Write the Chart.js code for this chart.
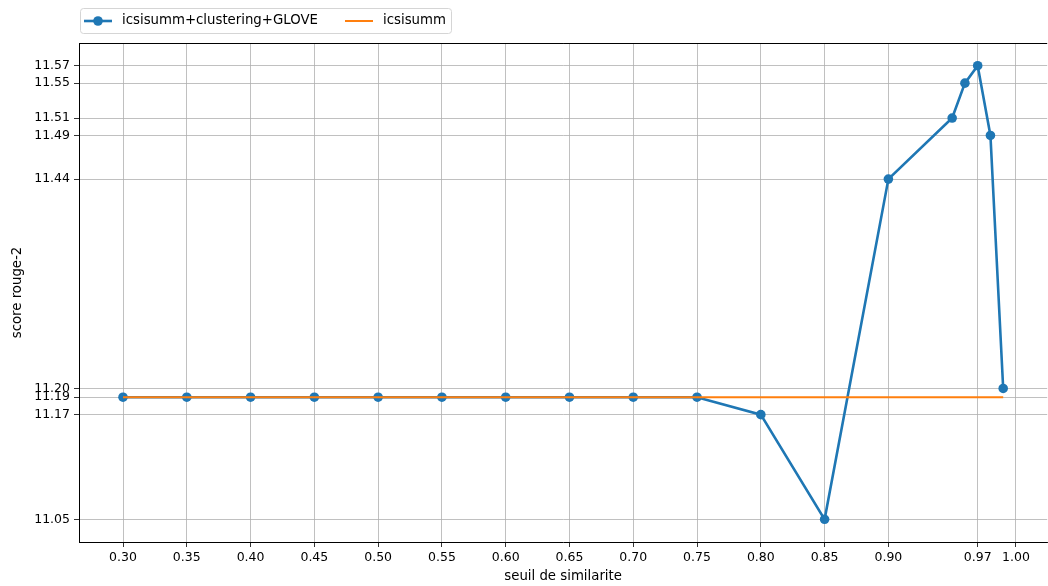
<!DOCTYPE html>
<html>
<head>
<meta charset="utf-8">
<script src="https://cdn.jsdelivr.net/npm/chart.js@4/dist/chart.umd.min.js"></script>
<style>
  html, body { margin: 0; padding: 0; background: #fff; overflow: hidden; }
  #wrap { width: 1052px; height: 586px; }
</style>
</head>
<body>
<div id="wrap"><canvas id="rouge-chart" width="1052" height="586"></canvas></div>
<script>
// ------------------- Data ------------------
const seuils = [0.30, 0.35, 0.40, 0.45, 0.50, 0.55, 0.60, 0.65, 0.70, 0.75, 0.80, 0.85, 0.90, 0.95, 0.96, 0.97, 0.98, 0.99];
const scoresGlove = [11.19, 11.19, 11.19, 11.19, 11.19, 11.19, 11.19, 11.19, 11.19, 11.19, 11.17, 11.05, 11.44, 11.51, 11.55, 11.57, 11.49, 11.20];
const scoreBaseline = 11.19;
const xTicks = [0.30, 0.35, 0.40, 0.45, 0.50, 0.55, 0.60, 0.65, 0.70, 0.75, 0.80, 0.85, 0.90, 0.97, 1.00];
const yTicks = [11.05, 11.17, 11.19, 11.20, 11.44, 11.49, 11.51, 11.55, 11.57];
const seriesNames = ['icsisumm+clustering+GLOVE', 'icsisumm'];

const BLUE = '#1f77b4';
const ORANGE = '#ff7f0e';
const FONT = 'DejaVu Sans';

// ------------------- Frame + legend plugin ------------------
const framePlugin = {
    id: 'frame',
    afterDraw(chart) {
        const ctx = chart.ctx;
        const a = chart.chartArea;
        ctx.save();
        // top spine
        ctx.strokeStyle = '#000';
        ctx.lineWidth = 1;
        ctx.beginPath();
        ctx.moveTo(a.left, a.top + 0.5);
        ctx.lineTo(a.right, a.top + 0.5);
        ctx.stroke();

        // legend box
        const bx = 80.5, by = 8.5, bw = 371, bh = 25, r = 3;
        ctx.fillStyle = 'rgba(255,255,255,0.8)';
        ctx.strokeStyle = '#d5d5d5';
        ctx.lineWidth = 1;
        ctx.beginPath();
        ctx.moveTo(bx + r, by);
        ctx.arcTo(bx + bw, by, bx + bw, by + bh, r);
        ctx.arcTo(bx + bw, by + bh, bx, by + bh, r);
        ctx.arcTo(bx, by + bh, bx, by, r);
        ctx.arcTo(bx, by, bx + bw, by, r);
        ctx.closePath();
        ctx.fill();
        ctx.stroke();

        const cy = 21;
        ctx.lineWidth = 2.6;
        ctx.strokeStyle = BLUE;
        ctx.beginPath();
        ctx.moveTo(84, cy);
        ctx.lineTo(112, cy);
        ctx.stroke();
        ctx.fillStyle = BLUE;
        ctx.beginPath();
        ctx.arc(98, cy, 4.8, 0, Math.PI * 2);
        ctx.fill();

        ctx.strokeStyle = ORANGE;
        ctx.lineWidth = 2;
        ctx.beginPath();
        ctx.moveTo(345, cy);
        ctx.lineTo(373, cy);
        ctx.stroke();

        ctx.fillStyle = '#000';
        ctx.font = '13.3px "' + FONT + '"';
        ctx.textBaseline = 'middle';
        ctx.textAlign = 'left';
        ctx.fillText(seriesNames[0], 122, cy);
        ctx.fillText(seriesNames[1], 383, cy);
        ctx.restore();
    }
};

// ------------------- Chart Data ------------------
const data = {
    datasets: [{
        label: seriesNames[0],
        data: seuils.map((x, i) => ({ x: x, y: scoresGlove[i] })),
        borderColor: BLUE,
        backgroundColor: BLUE,
        borderWidth: 2.6,
        pointRadius: 4.8,
        pointBorderWidth: 0,
        pointHoverRadius: 4.8,
        tension: 0,
        order: 1
    }, {
        label: seriesNames[1],
        data: seuils.map(x => ({ x: x, y: scoreBaseline })),
        borderColor: ORANGE,
        backgroundColor: ORANGE,
        borderWidth: 2,
        pointRadius: 0,
        tension: 0,
        order: 0
    }]
};

// ------------------- Chart Options ------------------
const chartOptions = {
    responsive: false,
    animation: false,
    events: [],
    layout: {
        padding: { left: 0, top: 43, right: 2, bottom: 0 }
    },
    plugins: {
        legend: { display: false },
        tooltip: { enabled: false }
    },
    scales: {
        x: {
            type: 'linear',
            min: 0.2655,
            max: 1.0245,
            afterBuildTicks: (scale) => { scale.ticks = xTicks.map(v => ({ value: v })); },
            afterFit: (scale) => { scale.height = 44; },
            grid: {
                color: '#b0b0b0',
                lineWidth: 0.8,
                tickColor: '#000',
                tickLength: 5,
                drawTicks: true
            },
            border: { color: '#000', width: 1 },
            ticks: {
                autoSkip: false,
                maxRotation: 0,
                padding: 3,
                color: '#000',
                font: { family: FONT, size: 12.5 },
                callback: (v) => Number(v).toFixed(2)
            },
            title: {
                display: true,
                text: 'seuil de similarite',
                color: '#000',
                font: { family: FONT, size: 13.3 },
                padding: { top: 0, bottom: 1 }
            }
        },
        y: {
            type: 'linear',
            min: 11.024,
            max: 11.596,
            afterBuildTicks: (scale) => { scale.ticks = yTicks.map(v => ({ value: v })); },
            afterFit: (scale) => { scale.width = 79; },
            grid: {
                color: '#b0b0b0',
                lineWidth: 0.8,
                tickColor: '#000',
                tickLength: 5,
                drawTicks: true
            },
            border: { color: '#000', width: 1 },
            ticks: {
                autoSkip: false,
                padding: 4,
                color: '#000',
                font: { family: FONT, size: 12.5 },
                callback: (v) => Number(v).toFixed(2)
            },
            title: {
                display: true,
                text: 'score rouge-2',
                color: '#000',
                font: { family: FONT, size: 13.3 },
                padding: { top: 10, bottom: 0 }
            }
        }
    }
};

// ------------------- Chart Config ------------------
const config = {
    type: 'line',
    data: data,
    options: chartOptions,
    plugins: [framePlugin]
};

// ------------------- Initialize Chart ------------------
const myChart = new Chart(
    document.getElementById('rouge-chart'),
    config
);
</script>
</body>
</html>
